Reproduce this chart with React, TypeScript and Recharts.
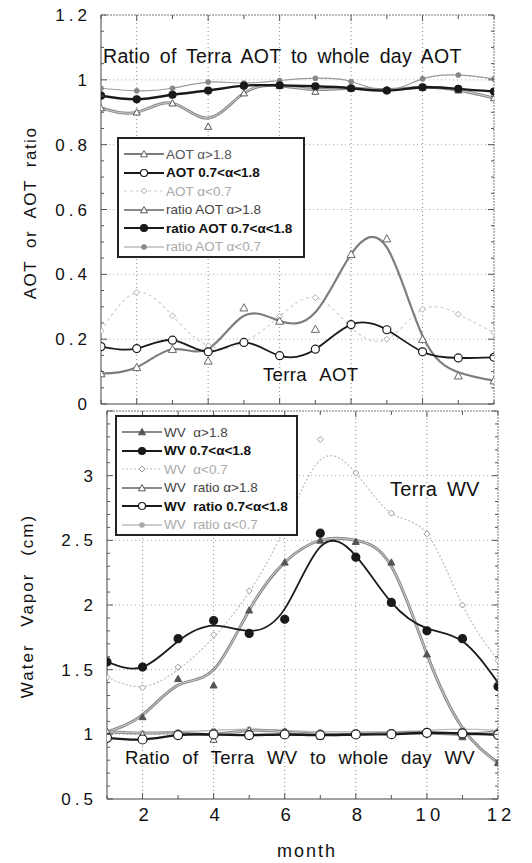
import React from "react";
import { LineChart, Line, XAxis, YAxis, ReferenceLine, Legend } from "recharts";

const FONT = '"Liberation Sans", Arial, Helvetica, sans-serif';

const months = [1, 2, 3, 4, 5, 6, 7, 8, 9, 10, 11, 12];

// top panel: Terra AOT (markers, and the smoothed curve where it departs from them)
const aotHigh = [0.094, 0.113, 0.169, 0.133, 0.297, 0.256, 0.231, 0.462, 0.51, 0.2, 0.087, 0.072];
const aotHighFit = [0.094, 0.113, 0.169, 0.17, 0.272, 0.256, 0.283, 0.462, 0.483, 0.21, 0.098, 0.072];
const aotMid = [0.177, 0.171, 0.197, 0.161, 0.19, 0.149, 0.169, 0.245, 0.229, 0.161, 0.142, 0.144];
const aotLow = [0.226, 0.344, 0.272, 0.18, 0.19, 0.27, 0.328, 0.236, 0.2, 0.292, 0.277, 0.22];
// top panel: ratio of Terra AOT to whole day AOT
const ratioHigh = [0.913, 0.9, 0.928, 0.856, 0.959, 0.982, 0.964, 0.974, 0.97, 0.977, 0.968, 0.944];
const ratioHighFit = [0.913, 0.9, 0.928, 0.882, 0.959, 0.982, 0.97, 0.974, 0.97, 0.977, 0.968, 0.944];
const ratioMid = [0.951, 0.94, 0.954, 0.967, 0.982, 0.983, 0.98, 0.974, 0.967, 0.977, 0.972, 0.964];
const ratioLow = [0.974, 0.966, 0.974, 0.993, 0.99, 0.998, 1.005, 0.995, 0.967, 1.003, 1.015, 1.003];

// bottom panel: Terra water vapor
const wvHigh = [1.02, 1.135, 1.43, 1.38, 1.96, 2.33, 2.5, 2.49, 2.33, 1.62, 0.98, 0.78];
const wvHighFit = [1.02, 1.15, 1.38, 1.5, 1.96, 2.33, 2.5, 2.5, 2.3, 1.62, 1.05, 0.78];
const wvMid = [1.56, 1.52, 1.74, 1.88, 1.78, 1.89, 2.555, 2.37, 2.02, 1.8, 1.74, 1.37];
const wvMidFit = [1.56, 1.52, 1.72, 1.84, 1.8, 1.97, 2.45, 2.38, 2.02, 1.82, 1.72, 1.4];
const wvLow = [1.44, 1.36, 1.52, 1.77, 2.11, 2.62, 3.28, 3.02, 2.71, 2.55, 2.0, 1.57];
const wvLowFit = [1.44, 1.37, 1.5, 1.75, 2.1, 2.6, 3.12, 3.02, 2.71, 2.55, 2.0, 1.57];
// bottom panel: ratio of Terra WV to whole day WV
const wvRatioHigh = [1.02, 1.0, 1.0, 0.96, 1.03, 1.02, 0.985, 1.0, 1.01, 1.01, 1.0, 1.02];
const wvRatioHighFit = [1.02, 1.01, 1.01, 1.0, 1.03, 1.02, 1.0, 1.0, 1.01, 1.01, 1.0, 1.02];
const wvRatioMid = [0.973, 0.96, 0.994, 0.999, 0.994, 0.999, 0.994, 0.999, 1.001, 1.012, 1.007, 0.996];
const wvRatioLow = [1.01, 1.01, 1.02, 1.03, 1.04, 1.03, 1.02, 1.02, 1.02, 1.03, 1.04, 1.03];

// ticks
const topLabels = [0, 0.2, 0.4, 0.6, 0.8, 1, 1.2];
const topMinor = [0, 0.05, 0.1, 0.15, 0.2, 0.25, 0.3, 0.35, 0.4, 0.45, 0.5, 0.55, 0.6, 0.65, 0.7, 0.75, 0.8, 0.85, 0.9, 0.95, 1, 1.05, 1.1, 1.15, 1.2];
const topGridY = [0.2, 0.4, 0.6, 0.8, 1];
const botLabels = [0.5, 1, 1.5, 2, 2.5, 3];
const botMajor = [0.5, 1, 1.5, 2, 2.5, 3, 3.5];
const botMinor = [0.5, 0.6, 0.7, 0.8, 0.9, 1, 1.1, 1.2, 1.3, 1.4, 1.5, 1.6, 1.7, 1.8, 1.9, 2, 2.1, 2.2, 2.3, 2.4, 2.5, 2.6, 2.7, 2.8, 2.9, 3, 3.1, 3.2, 3.3, 3.4, 3.5];
const botGridY = [1, 1.5, 2, 2.5, 3];
const gridX = [2, 4, 6, 8, 10];
const monthLabels = [2, 4, 6, 8, 10, 12];

type Mark = "tri" | "triFilled" | "circle" | "circleFilled" | "diamond" | "dot";

interface SeriesDef {
  key: string;
  name: string;
  values: number[];
  fit?: number[];
  stroke: string;
  width: number;
  core?: string;
  dash?: string;
  mark: Mark;
  markColor: string;
  size: number;
  text: string;
  bold?: boolean;
}

const GRAY = "#8a8a8a";
const BLACK = "#1a1a1a";
const LIGHT = "#bdbdbd";

// legend order
const topSeries: SeriesDef[] = [
  { key: "aotHigh", name: "AOT α>1.8", values: aotHigh, fit: aotHighFit, stroke: "#7d7d7d", width: 2.2, mark: "tri", markColor: "#666", size: 4, text: "#555" },
  { key: "aotMid", name: "AOT 0.7<α<1.8", values: aotMid, stroke: BLACK, width: 1.8, mark: "circle", markColor: BLACK, size: 4, text: "#111", bold: true },
  { key: "aotLow", name: "AOT α<0.7", values: aotLow, stroke: "#d0d0d0", width: 1.2, dash: "3 3", mark: "diamond", markColor: "#b0b0b0", size: 3, text: "#aaa" },
  { key: "ratioHigh", name: "ratio AOT α>1.8", values: ratioHigh, fit: ratioHighFit, stroke: GRAY, width: 3, core: "#e0e0e0", mark: "tri", markColor: "#555", size: 3.5, text: "#444" },
  { key: "ratioMid", name: "ratio AOT 0.7<α<1.8", values: ratioMid, stroke: BLACK, width: 2.4, mark: "circleFilled", markColor: BLACK, size: 3.5, text: "#111", bold: true },
  { key: "ratioLow", name: "ratio AOT α<0.7", values: ratioLow, stroke: "#9a9a9a", width: 1.2, mark: "dot", markColor: "#888", size: 2.2, text: "#aaa" },
];

const botSeries: SeriesDef[] = [
  { key: "wvHigh", name: "WV  α>1.8", values: wvHigh, fit: wvHighFit, stroke: GRAY, width: 3, core: "#e0e0e0", mark: "triFilled", markColor: "#555", size: 3.5, text: "#444" },
  { key: "wvMid", name: "WV 0.7<α<1.8", values: wvMid, fit: wvMidFit, stroke: BLACK, width: 1.8, mark: "circleFilled", markColor: BLACK, size: 4, text: "#111", bold: true },
  { key: "wvLow", name: "WV  α<0.7", values: wvLow, fit: wvLowFit, stroke: LIGHT, width: 1.2, dash: "2 2", mark: "diamond", markColor: "#9a9a9a", size: 3, text: "#aaa" },
  { key: "wvRatioHigh", name: "WV  ratio α>1.8", values: wvRatioHigh, fit: wvRatioHighFit, stroke: GRAY, width: 3, core: "#e0e0e0", mark: "tri", markColor: "#555", size: 3.5, text: "#444" },
  { key: "wvRatioMid", name: "WV  ratio 0.7<α<1.8", values: wvRatioMid, stroke: BLACK, width: 2.4, mark: "circle", markColor: BLACK, size: 4.5, text: "#111", bold: true },
  { key: "wvRatioLow", name: "WV  ratio α<0.7", values: wvRatioLow, stroke: LIGHT, width: 1.4, mark: "dot", markColor: "#aaa", size: 2.2, text: "#aaa" },
];

// draw order: light first, black last
const drawOrder = [2, 5, 0, 3, 1, 4];

const buildRows = (series: SeriesDef[]) =>
  months.map((m, i) => {
    const row: Record<string, number> = { month: m };
    series.forEach((s) => {
      row[s.key] = s.values[i];
      row[`${s.key}Fit`] = (s.fit ?? s.values)[i];
    });
    return row;
  });

const topData = buildRows(topSeries);
const botData = buildRows(botSeries);

function markShape(mark: Mark, cx: number, cy: number, s: number, color: string, key?: string) {
  if (mark === "tri" || mark === "triFilled") {
    const d = `M${cx},${cy - s} L${cx + s},${cy + s * 0.8} L${cx - s},${cy + s * 0.8} Z`;
    return <path key={key} d={d} fill={mark === "triFilled" ? color : "#fff"} stroke={color} strokeWidth={1} />;
  }
  if (mark === "diamond") {
    const d = `M${cx},${cy - s} L${cx + s},${cy} L${cx},${cy + s} L${cx - s},${cy} Z`;
    return <path key={key} d={d} fill="#fff" stroke={color} strokeWidth={1} />;
  }
  const filled = mark === "circleFilled" || mark === "dot";
  return <circle key={key} cx={cx} cy={cy} r={s} fill={filled ? color : "#fff"} stroke={color} strokeWidth={1.2} />;
}

const dotFor = (s: SeriesDef) => (p: any) => {
  if (p.cx == null || p.cy == null) return <g key={`${s.key}-${p.index}`} />;
  return markShape(s.mark, p.cx, p.cy, s.size, s.markColor, `${s.key}-${p.index}`);
};

const near = (list: number[], v: number) => list.some((l) => Math.abs(l - v) < 1e-9);

const yTick = (side: "left" | "right", majors: number[], labels: number[]) => (p: any) => {
  const v = p.payload.value;
  const dir = side === "left" ? 1 : -1;
  const len = near(majors, v) ? 6 : 3;
  return (
    <g key={`${side}-${v}`}>
      <line x1={p.x} x2={p.x + dir * len} y1={p.y} y2={p.y} stroke="#555" strokeWidth={1} />
      {side === "left" && near(labels, v) && (
        <text x={p.x - 10} y={p.y} dy="0.36em" textAnchor="end" fontSize={17} letterSpacing={4} fill="#111" fontFamily={FONT}>
          {v}
        </text>
      )}
    </g>
  );
};

const xTick = (side: "top" | "bottom", labels: number[], showLabels: boolean) => (p: any) => {
  const v = p.payload.value;
  const dir = side === "bottom" ? -1 : 1;
  const len = near(gridX, v) ? 6 : 4;
  return (
    <g key={`${side}-${v}`}>
      <line x1={p.x} x2={p.x} y1={p.y} y2={p.y + dir * len} stroke="#555" strokeWidth={1} />
      {showLabels && near(labels, v) && (
        <text x={p.x + 3} y={p.y + 22} textAnchor="middle" fontSize={18.5} letterSpacing={4} fill="#111" fontFamily={FONT}>
          {v}
        </text>
      )}
    </g>
  );
};

function LegendBox({ series, width }: { series: SeriesDef[]; width: number }) {
  return (
    <div
      style={{
        width,
        border: "2px solid #222",
        background: "#fff",
        padding: "6px 0 0 4px",
        boxSizing: "border-box",
        fontFamily: FONT,
        fontSize: 13.5,
      }}
    >
      {series.map((s) => (
        <div key={s.key} style={{ display: "flex", alignItems: "center", height: 18.5, whiteSpace: "pre" }}>
          <svg width={42} height={12} style={{ flex: "none" }}>
            <line x1={1} x2={41} y1={6} y2={6} stroke={s.stroke} strokeWidth={Math.min(s.width, 2)} strokeDasharray={s.dash} />
            {markShape(s.mark, 21, 6, Math.min(s.size, 3.5), s.markColor)}
          </svg>
          <span style={{ color: s.text, marginLeft: 1, fontWeight: s.bold ? 600 : 400 }}>{s.name}</span>
        </div>
      ))}
    </div>
  );
}

interface PanelProps {
  data: Record<string, number>[];
  series: SeriesDef[];
  domain: [number, number];
  majors: number[];
  minors: number[];
  labels: number[];
  gridY: number[];
  showMonthLabels: boolean;
  height: number;
  margin: { top: number; right: number; bottom: number; left: number };
  yWidth: number;
  legendPos: { left: number; top: number; width: number };
}

function Panel(props: PanelProps) {
  const { data, series, domain, majors, minors, labels, gridY, showMonthLabels, height, margin, yWidth, legendPos } = props;
  const axisLine = { stroke: "#444", strokeWidth: 1 };
  const softLine = { stroke: "#777", strokeWidth: 1, strokeDasharray: "2 1" };
  return (
    <LineChart width={532} height={height} data={data} margin={margin}>
      <XAxis xAxisId="b" dataKey="month" type="number" domain={[1, 12]} allowDataOverflow ticks={months} interval={0}
        tick={xTick("bottom", monthLabels, showMonthLabels)} tickLine={false} tickSize={0} tickMargin={0} height={1} axisLine={axisLine} />
      <XAxis xAxisId="t" orientation="top" dataKey="month" type="number" domain={[1, 12]} allowDataOverflow ticks={months} interval={0}
        tick={xTick("top", monthLabels, false)} tickLine={false} tickSize={0} tickMargin={0} height={1} axisLine={softLine} />
      <YAxis yAxisId="l" type="number" domain={domain} allowDataOverflow ticks={minors} interval={0}
        tick={yTick("left", majors, labels)} tickLine={false} tickSize={0} tickMargin={0} width={yWidth} axisLine={axisLine} />
      <YAxis yAxisId="r" orientation="right" type="number" domain={domain} allowDataOverflow ticks={minors} interval={0}
        tick={yTick("right", majors, [])} tickLine={false} tickSize={0} tickMargin={0} width={1} axisLine={softLine} />
      {gridY.map((v) => (
        <ReferenceLine key={`gy${v}`} xAxisId="b" yAxisId="l" y={v} stroke="#aaa" strokeDasharray="1 3" />
      ))}
      {gridX.map((v) => (
        <ReferenceLine key={`gx${v}`} xAxisId="b" yAxisId="l" x={v} stroke="#888" strokeDasharray="1 3" />
      ))}
      {drawOrder.flatMap((i) => {
        const s = series[i];
        const parts = [
          <Line key={`${s.key}-curve`} xAxisId="b" yAxisId="l" type="natural" dataKey={`${s.key}Fit`} name={s.name}
            stroke={s.stroke} strokeWidth={s.width} strokeDasharray={s.dash}
            dot={false} activeDot={false} isAnimationActive={false} />,
        ];
        if (s.core) {
          parts.push(
            <Line key={`${s.key}-core`} xAxisId="b" yAxisId="l" type="natural" dataKey={`${s.key}Fit`} legendType="none"
              stroke={s.core} strokeWidth={0.8} dot={false} activeDot={false} isAnimationActive={false} />
          );
        }
        parts.push(
          <Line key={`${s.key}-marks`} xAxisId="b" yAxisId="l" type="linear" dataKey={s.key} legendType="none"
            stroke="none" dot={dotFor(s)} activeDot={false} isAnimationActive={false} />
        );
        return parts;
      })}
      <Legend layout="horizontal" verticalAlign="middle" align="center"
        wrapperStyle={{ left: legendPos.left, top: legendPos.top, width: legendPos.width }}
        content={() => <LegendBox series={series} width={legendPos.width} />} />
    </LineChart>
  );
}

const note = (text: string, left: number, top: number, size: number, wordSpacing: number) => (
  <div style={{ position: "absolute", left, top, fontSize: size, lineHeight: 1, fontFamily: FONT, color: "#111", whiteSpace: "pre", wordSpacing, letterSpacing: 0.3 }}>
    {text}
  </div>
);

export default function App() {
  return (
    <div style={{ position: "absolute", left: 0, top: 0, width: 532, height: 863, background: "#fff", overflow: "hidden" }}>
      <div style={{ position: "absolute", left: 0, top: 0 }}>
        <Panel data={topData} series={topSeries} domain={[0, 1.2]} majors={topLabels} minors={topMinor} labels={topLabels}
          gridY={topGridY} showMonthLabels={false} height={420}
          margin={{ top: 14, right: 37, bottom: 15, left: 0 }} yWidth={101}
          legendPos={{ left: 117, top: 137, width: 188 }} />
      </div>
      <div style={{ position: "absolute", left: 0, top: 404 }}>
        <Panel data={botData} series={botSeries} domain={[0.5, 3.5]} majors={botMajor} minors={botMinor} labels={botLabels}
          gridY={botGridY} showMonthLabels={true} height={459}
          margin={{ top: 6, right: 33, bottom: 63, left: 0 }} yWidth={107}
          legendPos={{ left: 115, top: 11, width: 183 }} />
      </div>
      {note("Ratio of Terra AOT to whole day AOT", 103, 47, 19.5, 4)}
      {note("Terra AOT", 263, 366, 18.6, 8)}
      {note("Terra WV", 390, 479, 20, 4)}
      {note("Ratio of Terra WV to whole day WV", 125, 749, 18.6, 7)}
      <div style={{ position: "absolute", left: 30, top: 213, transform: "translate(-50%, -50%) rotate(-90deg)", fontFamily: FONT, fontSize: 17, letterSpacing: 1.5, wordSpacing: 6, whiteSpace: "pre", color: "#111", lineHeight: 1 }}>
        AOT or AOT ratio
      </div>
      <div style={{ position: "absolute", left: 27, top: 606, transform: "translate(-50%, -50%) rotate(-90deg)", fontFamily: FONT, fontSize: 17, letterSpacing: 2, wordSpacing: 10, whiteSpace: "pre", color: "#111", lineHeight: 1 }}>
        Water Vapor (cm)
      </div>
      <div style={{ position: "absolute", left: 307, top: 842, transform: "translateX(-50%)", fontFamily: FONT, fontSize: 18, letterSpacing: 2, color: "#111", lineHeight: 1 }}>
        month
      </div>
    </div>
  );
}
